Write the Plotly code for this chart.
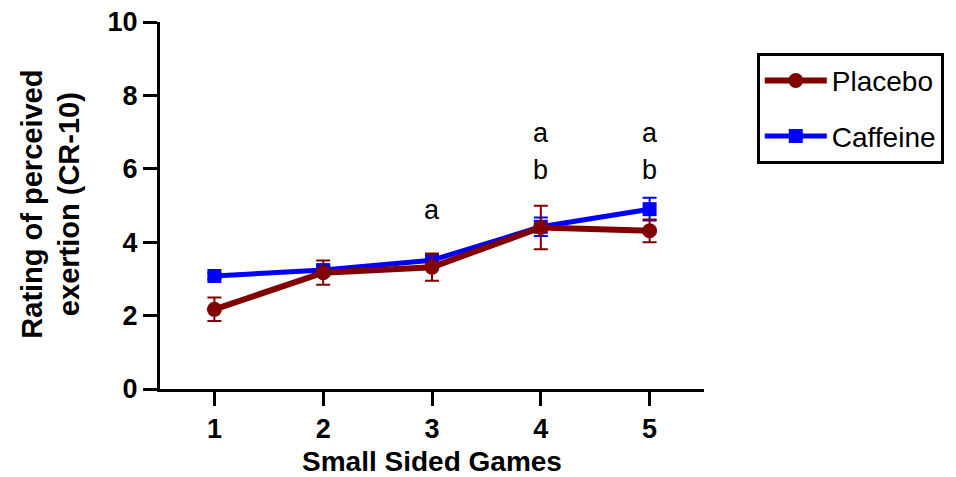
import plotly.graph_objects as go

games = [1, 2, 3, 4, 5]
placebo = [2.17, 3.17, 3.32, 4.40, 4.31]
placebo_err = [0.32, 0.33, 0.37, 0.59, 0.31]
caffeine = [3.08, 3.24, 3.51, 4.42, 4.90]
caffeine_err = [0.08, 0.12, 0.12, 0.25, 0.31]

sig_x = [3, 4, 4, 5, 5]
sig_y = [4.88, 6.98, 5.97, 6.98, 5.97]
sig_text = ["a", "a", "b", "a", "b"]

FONT = "Arial, Liberation Sans, sans-serif"
RED = "#800000"
BLUE = "#0000FF"

fig = go.Figure()
fig.add_trace(go.Scatter(
    x=games, y=caffeine, name="Caffeine", mode="lines+markers", legendgroup="c", legendrank=2,
    line=dict(color=BLUE, width=5),
    marker=dict(symbol="square", size=14, color=BLUE),
    error_y=dict(type="data", array=caffeine_err, color=BLUE, thickness=2, width=7),
))
fig.add_trace(go.Scatter(
    x=games, y=placebo, name="Placebo", mode="lines+markers", legendgroup="p", legendrank=1,
    line=dict(color=RED, width=6),
    marker=dict(symbol="circle", size=15, color=RED),
    error_y=dict(type="data", array=placebo_err, color=RED, thickness=2, width=7),
))

for x, y, t in zip(sig_x, sig_y, sig_text):
    fig.add_annotation(x=x, y=y, text=t, showarrow=False,
                       font=dict(family=FONT, size=27, color="black"))

fig.add_annotation(
    xref="paper", yref="paper", x=-0.201, y=0.504, xanchor="center", yanchor="middle",
    text="Rating of perceived<br>exertion (CR-10)", textangle=-90, showarrow=False,
    font=dict(family=FONT, size=29, weight="bold", color="black"),
)

fig.update_layout(
    width=948, height=469,
    margin=dict(l=152, r=249, t=14, b=88),
    paper_bgcolor="white", plot_bgcolor="white",
    font=dict(family=FONT, color="black"),
    showlegend=True,
    legend=dict(
        x=1.097, y=0.916, xanchor="left", yanchor="top",
        traceorder="grouped",
        bordercolor="black", borderwidth=3,
        font=dict(family=FONT, size=28, color="black"),
        itemwidth=62,
        tracegroupgap=16,
    ),
)
fig.update_xaxes(
    range=[0.5, 5.5], tickvals=games, showline=True, linecolor="black", linewidth=3,
    ticks="outside", ticklen=14, tickwidth=3, tickcolor="black", showgrid=False, zeroline=False,
    automargin=False,
    tickfont=dict(family=FONT, size=27, weight="bold"),
    title=dict(text="Small Sided Games", font=dict(family=FONT, size=28, weight="bold"), standoff=12),
)
fig.update_yaxes(
    range=[0, 10], tickvals=[0, 2, 4, 6, 8, 10], showline=True, linecolor="black", linewidth=3,
    ticks="outside", ticklen=14, tickwidth=3, tickcolor="black", showgrid=False, zeroline=False,
    automargin=False, ticklabeloverflow="allow",
    tickfont=dict(family=FONT, size=27, weight="bold"),
)

fig.write_html("out.html")
